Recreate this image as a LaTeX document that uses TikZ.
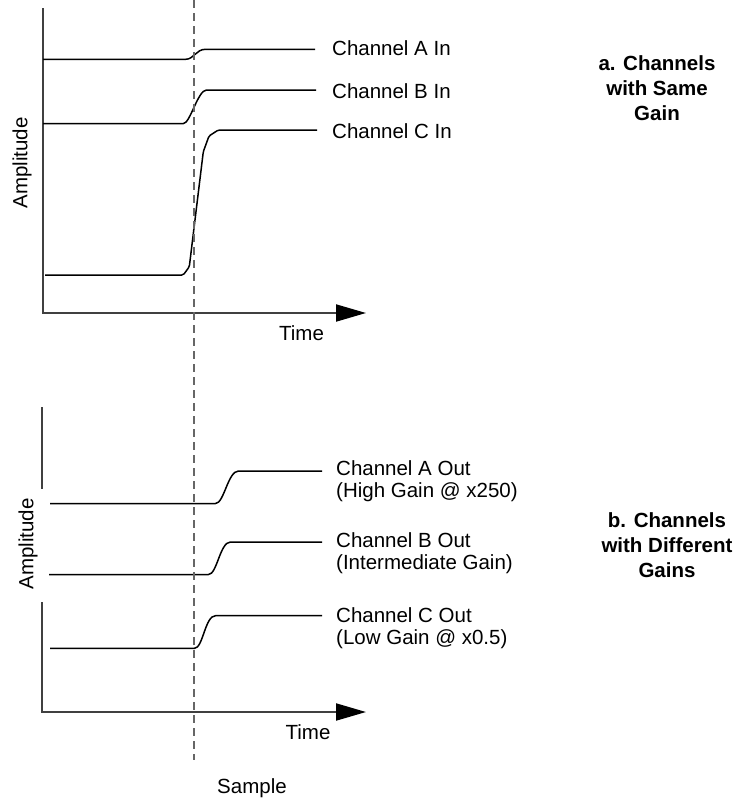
\documentclass[tikz,border=0pt]{standalone}
\usepackage{fontspec}
\setmainfont{Liberation Sans}
\usetikzlibrary{arrows.meta}
\begin{document}
\begin{tikzpicture}[x=1pt,y=-1pt,
  lbl/.style={font=\fontsize{20.5}{21.5}\selectfont, inner sep=0pt, align=left},
  ttl/.style={font=\fontsize{20.5}{24.8}\selectfont\bfseries, align=center, anchor=north, inner sep=0pt},
  axis/.style={draw=black!75, line width=2pt},
  axarrow/.style={axis, -{Triangle[length=30pt,width=17pt,color=black]}},
  sig/.style={draw=black, line width=1.5pt, rounded corners=1.5pt},
  samp/.style={draw=black!60, line width=1.5pt, dash pattern=on 8pt off 5pt}]
\useasboundingbox (0,0) rectangle (742,801);

% ---------- panel a ----------
\draw[axarrow] (43,8) -- (43,313) -- (366,313);
\node[lbl, rotate=90] (ampA) at (22,163) {Amplitude};
\node[lbl] (timeA) at (301.5,333) {Time};

\draw[sig] (43,59.3) -- (184,59.3) .. controls (194,59.3) and (196,49.3) .. (207,49.3) -- (315,49.3) coordinate (aA);
\draw[sig] (43,123.5) -- (182,123.5) .. controls (190,123.5) and (198,90) .. (208,90) -- (316,90) coordinate (aB);
\draw[sig] (45,275) -- (183.3,275) -- (189.3,266.7) -- (203.3,151.7) -- (209,136) -- (218.3,130) -- (317,130) coordinate (aC);

\node[lbl, anchor=west] (labA) at (332,48.3) {Channel A In};
\node[lbl, anchor=west] (labB) at (332,91) {Channel B In};
\node[lbl, anchor=west] (labC) at (332,131.2) {Channel C In};

\node[ttl] (titleA) at (657,55.5) {a. Channels\\with Same\\Gain};

% ---------- panel b ----------
\draw[axis] (42,407) -- (42,489);
\draw[axarrow] (42,602) -- (42,712) -- (366,712);
\node[lbl, rotate=90] (ampB) at (28,544) {Amplitude};
\node[lbl] (timeB) at (308,731.7) {Time};

\draw[sig] (50,503.5) -- (214,503.5) .. controls (224,503.5) and (228,471) .. (240,471) -- (322,471) coordinate (bA);
\draw[sig] (49,574.5) -- (207,574.5) .. controls (217,574.5) and (220,542) .. (232,542) -- (322,542) coordinate (bB);
\draw[sig] (50,648.3) -- (193,648.3) .. controls (203,648.3) and (205,615.7) .. (217,615.7) -- (322,615.7) coordinate (bC);

\node[lbl, anchor=north west] (labAo) at (336,460.8) {Channel A Out\\(High Gain @ x250)};
\node[lbl, anchor=north west] (labBo) at (336,532.5) {Channel B Out\\(Intermediate Gain)};
\node[lbl, anchor=north west] (labCo) at (336,607.5) {Channel C Out\\(Low Gain @ x0.5)};

\node[ttl] (titleB) at (667,512.5) {b. Channels\\with Different\\Gains};

% ---------- sample line ----------
\draw[samp] (194,0) -- (194,760) coordinate (sEnd);
\node[lbl] (sample) at (252,788) {Sample};
\end{tikzpicture}
\end{document}
